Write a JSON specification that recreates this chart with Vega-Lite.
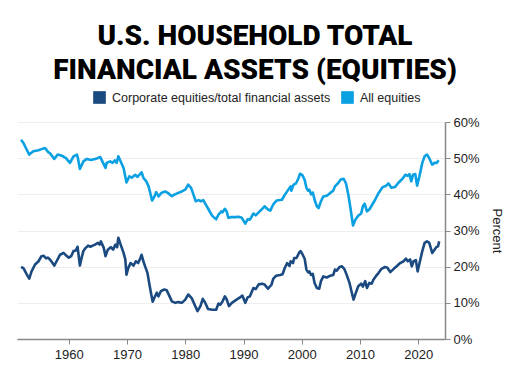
{
  "$schema": "https://vega.github.io/schema/vega-lite/v6.json",
  "autosize": {"type": "none"},
  "width": 428,
  "height": 217,
  "padding": {"left": 17, "top": 122, "right": 65, "bottom": 30},
  "background": "white",
  "title": {
    "text": ["U.S. HOUSEHOLD TOTAL", "FINANCIAL ASSETS (EQUITIES)"],
    "font": "Roboto",
    "fontWeight": 900,
    "fontSize": 28,
    "lineHeight": 34,
    "color": "#000000",
    "anchor": "middle",
    "frame": "group",
    "dx": 24,
    "offset": 6
  },
  "config": {
    "view": {"stroke": null},
    "font": "Liberation Sans"
  },
  "data": {"values": [
    {"series":"All equities","year":1951.8,"value":55.1},
    {"series":"All equities","year":1952.2,"value":54.2},
    {"series":"All equities","year":1953.2,"value":51.0},
    {"series":"All equities","year":1953.9,"value":51.9},
    {"series":"All equities","year":1954.8,"value":52.2},
    {"series":"All equities","year":1955.3,"value":52.5},
    {"series":"All equities","year":1955.9,"value":52.8},
    {"series":"All equities","year":1956.5,"value":51.6},
    {"series":"All equities","year":1956.8,"value":51.3},
    {"series":"All equities","year":1957.5,"value":49.8},
    {"series":"All equities","year":1958.1,"value":51.0},
    {"series":"All equities","year":1958.8,"value":50.7},
    {"series":"All equities","year":1959.5,"value":50.0},
    {"series":"All equities","year":1960.2,"value":48.7},
    {"series":"All equities","year":1960.8,"value":50.5},
    {"series":"All equities","year":1961.4,"value":51.0},
    {"series":"All equities","year":1961.6,"value":49.7},
    {"series":"All equities","year":1961.9,"value":47.0},
    {"series":"All equities","year":1962.5,"value":49.1},
    {"series":"All equities","year":1963.1,"value":49.8},
    {"series":"All equities","year":1963.8,"value":49.5},
    {"series":"All equities","year":1964.5,"value":49.8},
    {"series":"All equities","year":1964.9,"value":50.0},
    {"series":"All equities","year":1965.4,"value":50.3},
    {"series":"All equities","year":1966.3,"value":47.3},
    {"series":"All equities","year":1966.5,"value":48.7},
    {"series":"All equities","year":1967.1,"value":49.1},
    {"series":"All equities","year":1967.5,"value":48.7},
    {"series":"All equities","year":1967.9,"value":49.4},
    {"series":"All equities","year":1968.2,"value":48.7},
    {"series":"All equities","year":1968.5,"value":50.5},
    {"series":"All equities","year":1968.9,"value":49.1},
    {"series":"All equities","year":1969.4,"value":47.3},
    {"series":"All equities","year":1969.9,"value":43.3},
    {"series":"All equities","year":1970.4,"value":45.0},
    {"series":"All equities","year":1970.8,"value":44.6},
    {"series":"All equities","year":1971.4,"value":45.4},
    {"series":"All equities","year":1971.8,"value":44.8},
    {"series":"All equities","year":1972.1,"value":45.4},
    {"series":"All equities","year":1972.5,"value":46.1},
    {"series":"All equities","year":1972.8,"value":44.6},
    {"series":"All equities","year":1973.3,"value":43.6},
    {"series":"All equities","year":1973.7,"value":42.2},
    {"series":"All equities","year":1974.3,"value":38.3},
    {"series":"All equities","year":1974.7,"value":39.4},
    {"series":"All equities","year":1975.0,"value":40.6},
    {"series":"All equities","year":1975.4,"value":39.4},
    {"series":"All equities","year":1975.9,"value":40.4},
    {"series":"All equities","year":1976.5,"value":40.8},
    {"series":"All equities","year":1977.0,"value":40.4},
    {"series":"All equities","year":1977.7,"value":39.5},
    {"series":"All equities","year":1978.2,"value":40.0},
    {"series":"All equities","year":1978.8,"value":40.4},
    {"series":"All equities","year":1979.4,"value":40.8},
    {"series":"All equities","year":1980.0,"value":41.3},
    {"series":"All equities","year":1980.5,"value":42.7},
    {"series":"All equities","year":1981.0,"value":41.8},
    {"series":"All equities","year":1981.4,"value":39.9},
    {"series":"All equities","year":1981.8,"value":38.1},
    {"series":"All equities","year":1982.3,"value":38.4},
    {"series":"All equities","year":1982.7,"value":38.1},
    {"series":"All equities","year":1983.1,"value":38.4},
    {"series":"All equities","year":1983.5,"value":37.2},
    {"series":"All equities","year":1984.0,"value":35.8},
    {"series":"All equities","year":1984.6,"value":34.1},
    {"series":"All equities","year":1985.0,"value":33.5},
    {"series":"All equities","year":1985.3,"value":33.1},
    {"series":"All equities","year":1985.7,"value":34.4},
    {"series":"All equities","year":1986.2,"value":35.3},
    {"series":"All equities","year":1986.4,"value":35.0},
    {"series":"All equities","year":1986.8,"value":36.0},
    {"series":"All equities","year":1987.1,"value":35.3},
    {"series":"All equities","year":1987.4,"value":33.5},
    {"series":"All equities","year":1987.9,"value":33.7},
    {"series":"All equities","year":1988.6,"value":33.7},
    {"series":"All equities","year":1989.1,"value":33.8},
    {"series":"All equities","year":1989.7,"value":33.5},
    {"series":"All equities","year":1990.3,"value":31.9},
    {"series":"All equities","year":1990.7,"value":33.1},
    {"series":"All equities","year":1991.1,"value":33.0},
    {"series":"All equities","year":1991.7,"value":34.7},
    {"series":"All equities","year":1992.1,"value":34.2},
    {"series":"All equities","year":1992.6,"value":35.0},
    {"series":"All equities","year":1993.1,"value":35.8},
    {"series":"All equities","year":1993.6,"value":36.7},
    {"series":"All equities","year":1994.2,"value":35.8},
    {"series":"All equities","year":1994.6,"value":35.5},
    {"series":"All equities","year":1995.1,"value":37.2},
    {"series":"All equities","year":1995.7,"value":38.3},
    {"series":"All equities","year":1996.6,"value":38.5},
    {"series":"All equities","year":1997.1,"value":39.9},
    {"series":"All equities","year":1997.7,"value":41.3},
    {"series":"All equities","year":1998.1,"value":42.2},
    {"series":"All equities","year":1998.2,"value":41.0},
    {"series":"All equities","year":1998.6,"value":42.7},
    {"series":"All equities","year":1999.0,"value":43.0},
    {"series":"All equities","year":1999.4,"value":44.3},
    {"series":"All equities","year":1999.7,"value":45.7},
    {"series":"All equities","year":2000.1,"value":45.3},
    {"series":"All equities","year":2000.5,"value":44.0},
    {"series":"All equities","year":2000.8,"value":41.8},
    {"series":"All equities","year":2001.1,"value":41.0},
    {"series":"All equities","year":2001.3,"value":41.3},
    {"series":"All equities","year":2001.6,"value":40.0},
    {"series":"All equities","year":2001.9,"value":40.5},
    {"series":"All equities","year":2002.2,"value":38.5},
    {"series":"All equities","year":2002.6,"value":36.7},
    {"series":"All equities","year":2002.9,"value":36.2},
    {"series":"All equities","year":2003.3,"value":38.1},
    {"series":"All equities","year":2003.7,"value":39.4},
    {"series":"All equities","year":2004.3,"value":39.6},
    {"series":"All equities","year":2004.9,"value":40.4},
    {"series":"All equities","year":2005.4,"value":41.0},
    {"series":"All equities","year":2005.7,"value":42.2},
    {"series":"All equities","year":2006.3,"value":43.2},
    {"series":"All equities","year":2006.7,"value":44.1},
    {"series":"All equities","year":2007.2,"value":44.3},
    {"series":"All equities","year":2007.6,"value":43.0},
    {"series":"All equities","year":2008.0,"value":39.9},
    {"series":"All equities","year":2008.4,"value":35.8},
    {"series":"All equities","year":2008.8,"value":31.4},
    {"series":"All equities","year":2009.2,"value":33.0},
    {"series":"All equities","year":2009.7,"value":34.1},
    {"series":"All equities","year":2010.2,"value":34.7},
    {"series":"All equities","year":2010.5,"value":36.7},
    {"series":"All equities","year":2010.8,"value":37.4},
    {"series":"All equities","year":2011.2,"value":35.3},
    {"series":"All equities","year":2011.6,"value":35.8},
    {"series":"All equities","year":2012.2,"value":37.4},
    {"series":"All equities","year":2012.6,"value":38.5},
    {"series":"All equities","year":2013.2,"value":40.4},
    {"series":"All equities","year":2013.9,"value":42.0},
    {"series":"All equities","year":2014.4,"value":42.3},
    {"series":"All equities","year":2014.9,"value":43.0},
    {"series":"All equities","year":2015.4,"value":41.8},
    {"series":"All equities","year":2016.0,"value":42.0},
    {"series":"All equities","year":2016.6,"value":43.2},
    {"series":"All equities","year":2017.3,"value":44.3},
    {"series":"All equities","year":2017.8,"value":45.4},
    {"series":"All equities","year":2018.2,"value":45.1},
    {"series":"All equities","year":2018.5,"value":45.6},
    {"series":"All equities","year":2018.8,"value":43.6},
    {"series":"All equities","year":2019.1,"value":45.4},
    {"series":"All equities","year":2019.5,"value":45.6},
    {"series":"All equities","year":2019.8,"value":42.4},
    {"series":"All equities","year":2020.2,"value":44.9},
    {"series":"All equities","year":2020.7,"value":48.7},
    {"series":"All equities","year":2021.1,"value":50.5},
    {"series":"All equities","year":2021.5,"value":51.0},
    {"series":"All equities","year":2021.9,"value":50.0},
    {"series":"All equities","year":2022.4,"value":48.2},
    {"series":"All equities","year":2022.8,"value":48.7},
    {"series":"All equities","year":2023.2,"value":48.7},
    {"series":"All equities","year":2023.5,"value":49.4},
    {"series":"Corporate equities/total financial assets","year":1951.8,"value":19.9},
    {"series":"Corporate equities/total financial assets","year":1952.2,"value":19.6},
    {"series":"Corporate equities/total financial assets","year":1952.8,"value":17.8},
    {"series":"Corporate equities/total financial assets","year":1953.2,"value":16.7},
    {"series":"Corporate equities/total financial assets","year":1953.6,"value":18.7},
    {"series":"Corporate equities/total financial assets","year":1954.2,"value":20.6},
    {"series":"Corporate equities/total financial assets","year":1954.8,"value":21.5},
    {"series":"Corporate equities/total financial assets","year":1955.3,"value":22.9},
    {"series":"Corporate equities/total financial assets","year":1955.7,"value":23.0},
    {"series":"Corporate equities/total financial assets","year":1956.1,"value":22.3},
    {"series":"Corporate equities/total financial assets","year":1956.4,"value":22.5},
    {"series":"Corporate equities/total financial assets","year":1956.8,"value":21.9},
    {"series":"Corporate equities/total financial assets","year":1957.5,"value":20.3},
    {"series":"Corporate equities/total financial assets","year":1957.9,"value":21.5},
    {"series":"Corporate equities/total financial assets","year":1958.5,"value":23.3},
    {"series":"Corporate equities/total financial assets","year":1959.1,"value":23.8},
    {"series":"Corporate equities/total financial assets","year":1959.6,"value":23.0},
    {"series":"Corporate equities/total financial assets","year":1960.0,"value":22.5},
    {"series":"Corporate equities/total financial assets","year":1960.4,"value":22.9},
    {"series":"Corporate equities/total financial assets","year":1960.8,"value":24.3},
    {"series":"Corporate equities/total financial assets","year":1961.2,"value":24.5},
    {"series":"Corporate equities/total financial assets","year":1961.5,"value":25.5},
    {"series":"Corporate equities/total financial assets","year":1961.9,"value":20.3},
    {"series":"Corporate equities/total financial assets","year":1962.2,"value":22.5},
    {"series":"Corporate equities/total financial assets","year":1962.5,"value":24.3},
    {"series":"Corporate equities/total financial assets","year":1962.9,"value":25.2},
    {"series":"Corporate equities/total financial assets","year":1963.3,"value":25.8},
    {"series":"Corporate equities/total financial assets","year":1963.7,"value":25.5},
    {"series":"Corporate equities/total financial assets","year":1964.1,"value":25.8},
    {"series":"Corporate equities/total financial assets","year":1964.5,"value":26.1},
    {"series":"Corporate equities/total financial assets","year":1965.0,"value":26.6},
    {"series":"Corporate equities/total financial assets","year":1965.3,"value":26.1},
    {"series":"Corporate equities/total financial assets","year":1965.5,"value":27.0},
    {"series":"Corporate equities/total financial assets","year":1966.0,"value":25.2},
    {"series":"Corporate equities/total financial assets","year":1966.3,"value":22.9},
    {"series":"Corporate equities/total financial assets","year":1966.7,"value":24.7},
    {"series":"Corporate equities/total financial assets","year":1967.2,"value":25.4},
    {"series":"Corporate equities/total financial assets","year":1967.6,"value":24.7},
    {"series":"Corporate equities/total financial assets","year":1968.0,"value":26.1},
    {"series":"Corporate equities/total financial assets","year":1968.3,"value":25.4},
    {"series":"Corporate equities/total financial assets","year":1968.5,"value":28.0},
    {"series":"Corporate equities/total financial assets","year":1968.9,"value":26.1},
    {"series":"Corporate equities/total financial assets","year":1969.4,"value":23.8},
    {"series":"Corporate equities/total financial assets","year":1969.7,"value":22.0},
    {"series":"Corporate equities/total financial assets","year":1969.9,"value":17.8},
    {"series":"Corporate equities/total financial assets","year":1970.2,"value":19.6},
    {"series":"Corporate equities/total financial assets","year":1970.6,"value":21.0},
    {"series":"Corporate equities/total financial assets","year":1971.1,"value":20.3},
    {"series":"Corporate equities/total financial assets","year":1971.5,"value":21.5},
    {"series":"Corporate equities/total financial assets","year":1971.9,"value":21.0},
    {"series":"Corporate equities/total financial assets","year":1972.2,"value":22.0},
    {"series":"Corporate equities/total financial assets","year":1972.5,"value":23.3},
    {"series":"Corporate equities/total financial assets","year":1972.8,"value":21.5},
    {"series":"Corporate equities/total financial assets","year":1973.1,"value":20.1},
    {"series":"Corporate equities/total financial assets","year":1973.5,"value":18.3},
    {"series":"Corporate equities/total financial assets","year":1973.8,"value":15.5},
    {"series":"Corporate equities/total financial assets","year":1974.1,"value":12.8},
    {"series":"Corporate equities/total financial assets","year":1974.4,"value":10.3},
    {"series":"Corporate equities/total financial assets","year":1974.8,"value":11.8},
    {"series":"Corporate equities/total financial assets","year":1975.1,"value":12.8},
    {"series":"Corporate equities/total financial assets","year":1975.4,"value":11.8},
    {"series":"Corporate equities/total financial assets","year":1975.8,"value":13.2},
    {"series":"Corporate equities/total financial assets","year":1976.4,"value":13.7},
    {"series":"Corporate equities/total financial assets","year":1976.8,"value":13.5},
    {"series":"Corporate equities/total financial assets","year":1977.3,"value":11.8},
    {"series":"Corporate equities/total financial assets","year":1977.7,"value":10.4},
    {"series":"Corporate equities/total financial assets","year":1978.3,"value":10.0},
    {"series":"Corporate equities/total financial assets","year":1978.8,"value":10.2},
    {"series":"Corporate equities/total financial assets","year":1979.4,"value":10.0},
    {"series":"Corporate equities/total financial assets","year":1980.0,"value":10.9},
    {"series":"Corporate equities/total financial assets","year":1980.5,"value":12.3},
    {"series":"Corporate equities/total financial assets","year":1981.1,"value":11.3},
    {"series":"Corporate equities/total financial assets","year":1981.7,"value":9.1},
    {"series":"Corporate equities/total financial assets","year":1982.1,"value":7.7},
    {"series":"Corporate equities/total financial assets","year":1982.6,"value":9.1},
    {"series":"Corporate equities/total financial assets","year":1983.0,"value":11.1},
    {"series":"Corporate equities/total financial assets","year":1983.4,"value":10.1},
    {"series":"Corporate equities/total financial assets","year":1983.9,"value":8.3},
    {"series":"Corporate equities/total financial assets","year":1984.6,"value":8.1},
    {"series":"Corporate equities/total financial assets","year":1985.3,"value":8.1},
    {"series":"Corporate equities/total financial assets","year":1985.7,"value":9.8},
    {"series":"Corporate equities/total financial assets","year":1986.0,"value":9.5},
    {"series":"Corporate equities/total financial assets","year":1986.4,"value":10.4},
    {"series":"Corporate equities/total financial assets","year":1986.8,"value":11.8},
    {"series":"Corporate equities/total financial assets","year":1987.1,"value":11.0},
    {"series":"Corporate equities/total financial assets","year":1987.5,"value":9.1},
    {"series":"Corporate equities/total financial assets","year":1988.0,"value":10.0},
    {"series":"Corporate equities/total financial assets","year":1988.8,"value":10.9},
    {"series":"Corporate equities/total financial assets","year":1989.4,"value":11.5},
    {"series":"Corporate equities/total financial assets","year":1989.8,"value":12.0},
    {"series":"Corporate equities/total financial assets","year":1990.3,"value":10.0},
    {"series":"Corporate equities/total financial assets","year":1990.7,"value":11.5},
    {"series":"Corporate equities/total financial assets","year":1991.1,"value":11.8},
    {"series":"Corporate equities/total financial assets","year":1991.7,"value":14.1},
    {"series":"Corporate equities/total financial assets","year":1992.1,"value":13.8},
    {"series":"Corporate equities/total financial assets","year":1992.6,"value":15.1},
    {"series":"Corporate equities/total financial assets","year":1993.2,"value":15.3},
    {"series":"Corporate equities/total financial assets","year":1993.6,"value":15.1},
    {"series":"Corporate equities/total financial assets","year":1994.2,"value":13.9},
    {"series":"Corporate equities/total financial assets","year":1994.8,"value":15.0},
    {"series":"Corporate equities/total financial assets","year":1995.1,"value":16.6},
    {"series":"Corporate equities/total financial assets","year":1995.6,"value":17.5},
    {"series":"Corporate equities/total financial assets","year":1996.3,"value":17.7},
    {"series":"Corporate equities/total financial assets","year":1996.7,"value":17.9},
    {"series":"Corporate equities/total financial assets","year":1997.1,"value":19.7},
    {"series":"Corporate equities/total financial assets","year":1997.5,"value":21.0},
    {"series":"Corporate equities/total financial assets","year":1997.9,"value":20.2},
    {"series":"Corporate equities/total financial assets","year":1998.1,"value":21.5},
    {"series":"Corporate equities/total financial assets","year":1998.5,"value":21.0},
    {"series":"Corporate equities/total financial assets","year":1998.7,"value":22.4},
    {"series":"Corporate equities/total financial assets","year":1999.1,"value":22.4},
    {"series":"Corporate equities/total financial assets","year":1999.6,"value":24.0},
    {"series":"Corporate equities/total financial assets","year":1999.8,"value":24.3},
    {"series":"Corporate equities/total financial assets","year":2000.1,"value":23.5},
    {"series":"Corporate equities/total financial assets","year":2000.5,"value":22.2},
    {"series":"Corporate equities/total financial assets","year":2000.8,"value":19.2},
    {"series":"Corporate equities/total financial assets","year":2001.1,"value":18.4},
    {"series":"Corporate equities/total financial assets","year":2001.3,"value":18.7},
    {"series":"Corporate equities/total financial assets","year":2001.6,"value":17.7},
    {"series":"Corporate equities/total financial assets","year":2001.9,"value":18.0},
    {"series":"Corporate equities/total financial assets","year":2002.2,"value":15.5},
    {"series":"Corporate equities/total financial assets","year":2002.6,"value":14.1},
    {"series":"Corporate equities/total financial assets","year":2003.0,"value":13.9},
    {"series":"Corporate equities/total financial assets","year":2003.3,"value":16.0},
    {"series":"Corporate equities/total financial assets","year":2003.7,"value":17.3},
    {"series":"Corporate equities/total financial assets","year":2004.3,"value":17.0},
    {"series":"Corporate equities/total financial assets","year":2004.9,"value":17.5},
    {"series":"Corporate equities/total financial assets","year":2005.4,"value":17.7},
    {"series":"Corporate equities/total financial assets","year":2005.7,"value":19.2},
    {"series":"Corporate equities/total financial assets","year":2006.0,"value":18.9},
    {"series":"Corporate equities/total financial assets","year":2006.5,"value":19.9},
    {"series":"Corporate equities/total financial assets","year":2006.9,"value":20.1},
    {"series":"Corporate equities/total financial assets","year":2007.3,"value":19.4},
    {"series":"Corporate equities/total financial assets","year":2007.7,"value":17.8},
    {"series":"Corporate equities/total financial assets","year":2008.2,"value":15.5},
    {"series":"Corporate equities/total financial assets","year":2008.6,"value":12.8},
    {"series":"Corporate equities/total financial assets","year":2008.9,"value":10.9},
    {"series":"Corporate equities/total financial assets","year":2009.3,"value":12.8},
    {"series":"Corporate equities/total financial assets","year":2009.7,"value":14.6},
    {"series":"Corporate equities/total financial assets","year":2010.2,"value":15.3},
    {"series":"Corporate equities/total financial assets","year":2010.5,"value":14.5},
    {"series":"Corporate equities/total financial assets","year":2010.9,"value":16.0},
    {"series":"Corporate equities/total financial assets","year":2011.2,"value":14.1},
    {"series":"Corporate equities/total financial assets","year":2011.6,"value":15.5},
    {"series":"Corporate equities/total financial assets","year":2012.0,"value":15.3},
    {"series":"Corporate equities/total financial assets","year":2012.3,"value":16.4},
    {"series":"Corporate equities/total financial assets","year":2012.7,"value":17.3},
    {"series":"Corporate equities/total financial assets","year":2013.2,"value":18.3},
    {"series":"Corporate equities/total financial assets","year":2013.7,"value":19.4},
    {"series":"Corporate equities/total financial assets","year":2014.3,"value":19.9},
    {"series":"Corporate equities/total financial assets","year":2014.7,"value":19.7},
    {"series":"Corporate equities/total financial assets","year":2015.2,"value":18.5},
    {"series":"Corporate equities/total financial assets","year":2015.8,"value":19.4},
    {"series":"Corporate equities/total financial assets","year":2016.3,"value":20.1},
    {"series":"Corporate equities/total financial assets","year":2016.9,"value":21.0},
    {"series":"Corporate equities/total financial assets","year":2017.5,"value":21.5},
    {"series":"Corporate equities/total financial assets","year":2017.9,"value":22.2},
    {"series":"Corporate equities/total financial assets","year":2018.2,"value":21.5},
    {"series":"Corporate equities/total financial assets","year":2018.6,"value":22.0},
    {"series":"Corporate equities/total financial assets","year":2018.9,"value":20.1},
    {"series":"Corporate equities/total financial assets","year":2019.2,"value":21.5},
    {"series":"Corporate equities/total financial assets","year":2019.6,"value":21.8},
    {"series":"Corporate equities/total financial assets","year":2019.9,"value":18.7},
    {"series":"Corporate equities/total financial assets","year":2020.3,"value":21.5},
    {"series":"Corporate equities/total financial assets","year":2020.7,"value":24.3},
    {"series":"Corporate equities/total financial assets","year":2021.1,"value":26.6},
    {"series":"Corporate equities/total financial assets","year":2021.5,"value":27.0},
    {"series":"Corporate equities/total financial assets","year":2021.9,"value":26.6},
    {"series":"Corporate equities/total financial assets","year":2022.4,"value":23.8},
    {"series":"Corporate equities/total financial assets","year":2022.8,"value":24.7},
    {"series":"Corporate equities/total financial assets","year":2023.1,"value":25.4},
    {"series":"Corporate equities/total financial assets","year":2023.4,"value":25.6},
    {"series":"Corporate equities/total financial assets","year":2023.6,"value":27.0}
  ]},
  "mark": {"type": "line", "strokeWidth": 2.6, "strokeJoin": "round"},
  "encoding": {
    "x": {
      "field": "year",
      "type": "quantitative",
      "scale": {"domain": [1951.1, 2024.6], "nice": false, "zero": false},
      "axis": {
        "title": null,
        "values": [1960, 1970, 1980, 1990, 2000, 2010, 2020],
        "format": "d",
        "grid": false,
        "domainColor": "#888888",
        "domainWidth": 1.5,
        "tickColor": "#888888",
        "tickSize": 5,
        "labelFont": "Liberation Sans",
        "labelFontSize": 13,
        "labelColor": "#222222",
        "labelPadding": 4
      }
    },
    "y": {
      "field": "value",
      "type": "quantitative",
      "scale": {"domain": [0, 60], "nice": false},
      "axis": {
        "orient": "right",
        "title": "Percent",
        "titleFont": "Liberation Sans",
        "titleAngle": 90,
        "titleFontSize": 13,
        "titleFontWeight": "normal",
        "titleColor": "#222222",
        "titlePadding": 10,
        "values": [0, 10, 20, 30, 40, 50, 60],
        "labelExpr": "datum.value + '%'",
        "labelFont": "Liberation Sans",
        "grid": true,
        "gridColor": "#eeeeee",
        "gridWidth": 1,
        "domainColor": "#888888",
        "domainWidth": 1.5,
        "tickColor": "#888888",
        "tickSize": 5,
        "labelFontSize": 13,
        "labelColor": "#222222",
        "labelPadding": 3
      }
    },
    "color": {
      "field": "series",
      "type": "nominal",
      "scale": {
        "domain": ["Corporate equities/total financial assets", "All equities"],
        "range": ["#1a4a80", "#0aa0e2"]
      },
      "legend": {
        "title": null,
        "orient": "none",
        "direction": "horizontal",
        "legendX": 76,
        "legendY": -31,
        "symbolType": "square",
        "symbolSize": 160,
        "labelFont": "Liberation Sans",
        "labelFontSize": 12.5,
        "labelColor": "#222222",
        "labelLimit": 300,
        "columnPadding": 10,
        "labelOffset": 6,
        "encode": {
          "symbols": {
            "update": {
              "fill": {"scale": "color", "field": "value"},
              "fillOpacity": {"value": 1},
              "strokeWidth": {"value": 0}
            }
          }
        }
      }
    }
  }
}
